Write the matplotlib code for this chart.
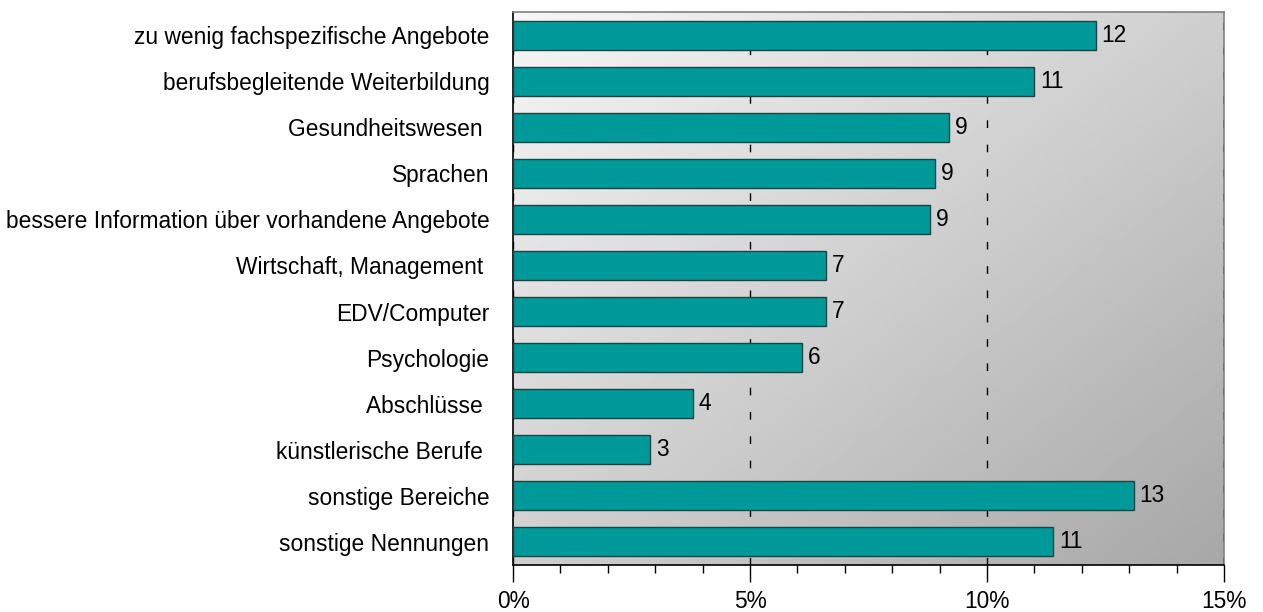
import numpy as np
import matplotlib

matplotlib.use("Agg")
import matplotlib.pyplot as plt
from matplotlib.ticker import FixedLocator, MultipleLocator, FuncFormatter

plt.rcParams["font.family"] = ["Liberation Sans", "DejaVu Sans"]

# Anteile in Prozent, von oben nach unten
kategorien = [
    "zu wenig fachspezifische Angebote",
    "berufsbegleitende Weiterbildung",
    "Gesundheitswesen ",
    "Sprachen",
    "bessere Information über vorhandene Angebote",
    "Wirtschaft, Management ",
    "EDV/Computer",
    "Psychologie",
    "Abschlüsse ",
    "künstlerische Berufe ",
    "sonstige Bereiche",
    "sonstige Nennungen",
]
anteile = [12.3, 11.0, 9.2, 8.9, 8.8, 6.6, 6.6, 6.1, 3.8, 2.9, 13.1, 11.4]
x_ticks = [0, 5, 10, 15]

fig = plt.figure(figsize=(12.63, 6.12), dpi=100)
ax = fig.add_axes([513 / 1263, 1 - 565 / 612, 711 / 1263, 553 / 612])

# Hintergrund: diagonaler Verlauf von hellgrau nach dunkelgrau
n = len(kategorien)
gx, gy = np.meshgrid(np.linspace(0, 1, 400), np.linspace(0, 1, 300))
grad = 0.965 - 0.31 * (gx + gy) / 2
ax.imshow(grad, cmap="gray", vmin=0, vmax=1, extent=(0, 15, n - 0.5, -0.5),
          aspect="auto", zorder=0, interpolation="bilinear")

y = np.arange(n)
ax.barh(y, anteile, height=0.63, color="#009999", edgecolor="#1a4444",
        linewidth=1.0, zorder=3)
for yi, v in zip(y, anteile):
    ax.text(v + 0.12, yi, f"{round(v)}", va="center", ha="left",
            fontsize=16.4, color="black", zorder=4)

# gestrichelte Gitterlinien, auch über dem grauen Rahmen rechts
for xv in x_ticks:
    ax.axvline(xv, color="black", linewidth=1.0, dashes=(5.5, 12), zorder=1)

ax.set_xlim(0, 15)
ax.set_ylim(n - 0.5, -0.5)
ax.xaxis.set_major_locator(FixedLocator(x_ticks))
ax.xaxis.set_minor_locator(MultipleLocator(1))
ax.xaxis.set_major_formatter(FuncFormatter(lambda v, _: f"{v:.0f}%"))
ax.tick_params(axis="x", which="major", length=12, width=1, labelsize=16.4,
               pad=6, direction="out")
ax.tick_params(axis="x", which="minor", length=6, width=1, direction="out")

ax.set_yticks(y)
ax.set_yticklabels(kategorien)
ax.tick_params(axis="y", length=0, labelsize=16.4, pad=17)

ax.spines["left"].set_color("black")
ax.spines["bottom"].set_color("black")
ax.spines["top"].set_color("#808080")
ax.spines["right"].set_color("#808080")
for s in ax.spines.values():
    s.set_linewidth(1.2)
    s.set_zorder(0.5)

fig.savefig("out.png", dpi=100)
